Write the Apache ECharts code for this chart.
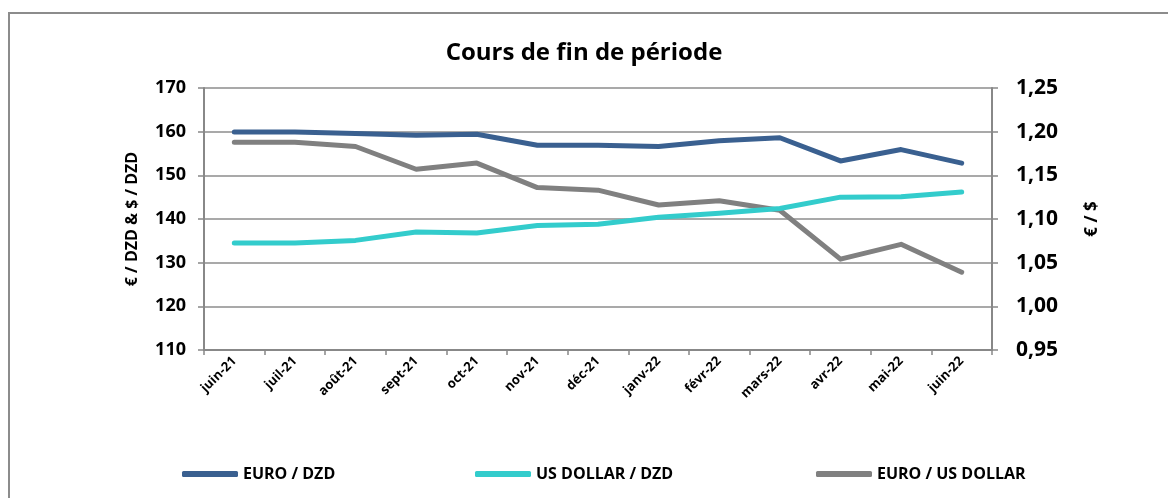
<!DOCTYPE html>
<html>
<head>
<meta charset="utf-8">
<script src="https://cdn.jsdelivr.net/npm/echarts@6/dist/echarts.min.js"></script>
<style>
  html, body { margin: 0; padding: 0; background: #fff; }
  #main { width: 1168px; height: 498px; }
</style>
</head>
<body>
<div id="main"></div>
<script>
// données
var months = ['juin-21', 'juil-21', 'août-21', 'sept-21', 'oct-21', 'nov-21', 'déc-21',
  'janv-22', 'févr-22', 'mars-22', 'avr-22', 'mai-22', 'juin-22'];
var euroDzd = [159.9, 159.9, 159.6, 159.2, 159.4, 156.9, 156.9, 156.6, 157.9, 158.6, 153.3, 155.9, 152.8];
var usdDzd = [134.5, 134.5, 135.1, 137.0, 136.8, 138.5, 138.8, 140.4, 141.3, 142.4, 145.0, 145.1, 146.2];
var euroUsd = [1.188, 1.188, 1.183, 1.157, 1.164, 1.136, 1.133, 1.116, 1.121, 1.110, 1.054, 1.071, 1.039];
var leftTicks = [110, 170, 10];
var rightTicks = [0.95, 1.25, 0.05];

var names = ['EURO / DZD', 'US DOLLAR / DZD', 'EURO / US DOLLAR'];
var colors = ['#3a6090', '#33cccc', '#808080'];
var font = 'Open Sans';

var chart = echarts.init(document.getElementById('main'));

function legendAt(name, left) {
  return {
    data: [name],
    left: left,
    top: 461,
    icon: 'roundRect',
    itemWidth: 56,
    itemHeight: 6,
    textStyle: { fontFamily: font, fontWeight: 'bold', fontSize: 16, color: '#000' }
  };
}

chart.setOption({
  color: colors,
  animation: false,
  graphic: [{
    type: 'rect',
    shape: { x: 9, y: 13, width: 1200, height: 520 },
    style: { fill: 'none', stroke: '#8c8c8c', lineWidth: 2 }
  }],
  title: {
    text: 'Cours de fin de période',
    left: 'center',
    top: 36,
    textStyle: { fontFamily: font, fontWeight: 'bold', fontSize: 24, color: '#000' }
  },
  legend: [legendAt(names[0], 177), legendAt(names[1], 470), legendAt(names[2], 811)],
  grid: { left: 204, right: 176, top: 88, bottom: 148 },
  xAxis: {
    type: 'category',
    data: months,
    boundaryGap: true,
    axisLine: { lineStyle: { color: '#888', width: 2 } },
    axisTick: { show: true, length: 5, lineStyle: { color: '#888', width: 1.5 } },
    axisLabel: {
      rotate: 45,
      interval: 0,
      margin: 9,
      fontFamily: font,
      fontWeight: 'bold',
      fontSize: 13,
      color: '#000'
    }
  },
  yAxis: [{
    type: 'value',
    min: leftTicks[0],
    max: leftTicks[1],
    interval: leftTicks[2],
    name: '€ / DZD & $ / DZD',
    nameLocation: 'middle',
    nameRotate: 90,
    nameGap: 64,
    nameTextStyle: { fontFamily: font, fontWeight: 'bold', fontSize: 16, color: '#000' },
    axisLine: { show: true, lineStyle: { color: '#888', width: 2 } },
    axisTick: { show: true, length: 6, lineStyle: { color: '#888', width: 1.5 } },
    axisLabel: { fontFamily: font, fontWeight: 'bold', fontSize: 18, color: '#000', margin: 18 },
    splitLine: { lineStyle: { color: '#8c8c8c', width: 1.5 } }
  }, {
    type: 'value',
    min: rightTicks[0],
    max: rightTicks[1],
    interval: rightTicks[2],
    name: '€ / $',
    nameLocation: 'middle',
    nameRotate: 90,
    nameGap: 92,
    nameTextStyle: { fontFamily: font, fontWeight: 'bold', fontSize: 17, color: '#000' },
    axisLine: { show: true, lineStyle: { color: '#888', width: 2 } },
    axisTick: { show: true, length: 6, lineStyle: { color: '#888', width: 1.5 } },
    axisLabel: {
      fontFamily: font, fontWeight: 'bold', fontSize: 21, color: '#000', margin: 24,
      formatter: function (v) { return v.toFixed(2).replace('.', ','); }
    },
    splitLine: { show: false }
  }],
  series: [
    { name: names[0], type: 'line', yAxisIndex: 0, data: euroDzd, showSymbol: false,
      lineStyle: { width: 5, cap: 'round', join: 'round' }, z: 3 },
    { name: names[1], type: 'line', yAxisIndex: 0, data: usdDzd, showSymbol: false,
      lineStyle: { width: 5, cap: 'round', join: 'round' }, z: 3 },
    { name: names[2], type: 'line', yAxisIndex: 1, data: euroUsd, showSymbol: false,
      lineStyle: { width: 5, cap: 'round', join: 'round' }, z: 2 }
  ]
});
</script>
</body>
</html>
